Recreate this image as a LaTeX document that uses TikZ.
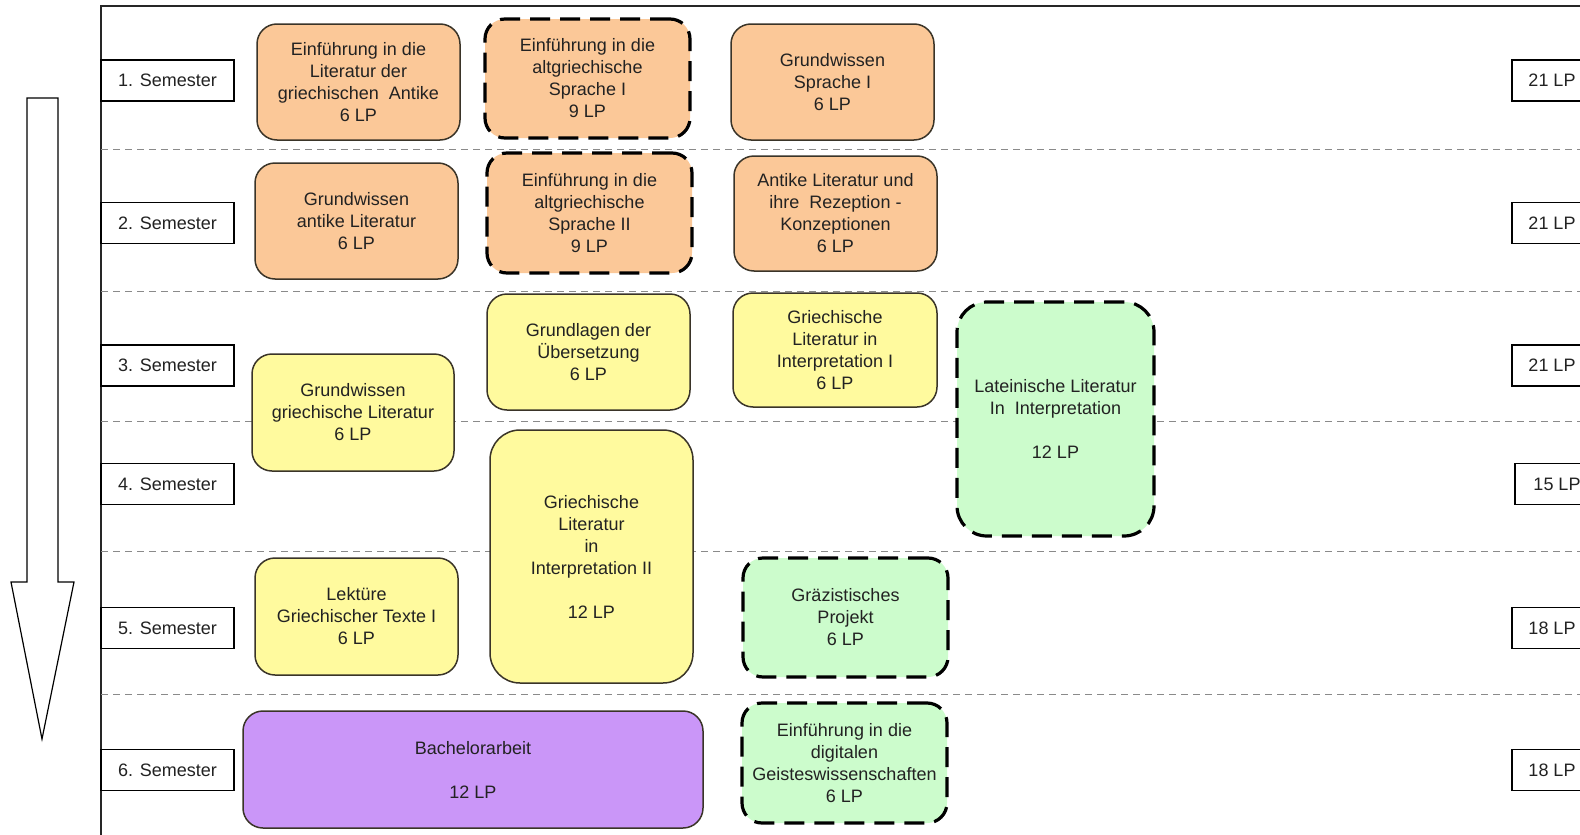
\documentclass[tikz,border=0pt]{standalone}
\usepackage{fontspec}
\setmainfont{Liberation Sans}
\definecolor{modorange}{HTML}{FBC898}
\definecolor{modyellow}{HTML}{FFFA9E}
\definecolor{modgreen}{HTML}{CCFCCC}
\definecolor{modpurple}{HTML}{CA96F8}
\definecolor{bord}{HTML}{3A3428}
\definecolor{txt}{HTML}{222222}
\definecolor{sepgray}{HTML}{8A8A8A}
\newcommand\modfont{\fontsize{18}{22}\selectfont}
\tikzset{
  mod/.style={rectangle, rounded corners=20pt, align=center, inner sep=0pt, font=\modfont, text=txt},
  solidmod/.style={mod, draw=bord, line width=1.5pt},
  dashmod/.style={mod, draw=black, line width=3.2pt, dash pattern=on 20pt off 10pt},
  orangebox/.style={fill=modorange},
  yellowbox/.style={fill=modyellow},
  greenbox/.style={fill=modgreen},
  purplebox/.style={fill=modpurple},
  sem/.style={rectangle, draw=black, line width=1.3pt, minimum width=133pt, minimum height=41pt, inner sep=0pt, font=\modfont, text=txt, fill=white},
  lpbox/.style={rectangle, draw=black, line width=1.3pt, minimum width=80pt, minimum height=41pt, inner sep=0pt, font=\modfont, text=txt, fill=white},
  frameline/.style={draw=black!85, line width=1.5pt},
  sepline/.style={draw=sepgray, line width=1pt, dash pattern=on 7pt off 5pt},
  arrowshape/.style={draw=black, fill=white, line width=1.2pt, line join=miter}
}
\begin{document}
\begin{tikzpicture}[x=1pt,y=-1pt]
\clip (0,0) rectangle (1580,835);
\fill[white] (0,0) rectangle (1580,835);
% frame
\draw[frameline] (1600,6) -- (101,6) -- (101,850);
% semester separators
\foreach \yy in {149,291,421,551,694}{
  \draw[sepline] (101,\yy) -- (1580,\yy);
}
% progress arrow
\draw[arrowshape] (27,98) -- (58,98) -- (58,582) -- (74,582) -- (42,739) -- (11,582) -- (27,582) -- cycle;
% semester labels
\node[sem] (s1) at (167.5,80.5) {1. Semester};
\node[sem] (s2) at (167.5,223) {2. Semester};
\node[sem] (s3) at (167.5,365.5) {3. Semester};
\node[sem] (s4) at (167.5,484) {4. Semester};
\node[sem] (s5) at (167.5,628) {5. Semester};
\node[sem] (s6) at (167.5,770) {6. Semester};
% LP totals
\node[lpbox] (lp1) at (1552,80.5) {21 LP};
\node[lpbox] (lp2) at (1552,223) {21 LP};
\node[lpbox] (lp3) at (1552,365.5) {21 LP};
\node[lpbox, minimum width=84pt] (lp4) at (1557,484) {15 LP};
\node[lpbox] (lp5) at (1552,628) {18 LP};
\node[lpbox] (lp6) at (1552,770) {18 LP};
% semester 1
\node[solidmod, orangebox, minimum width=203pt, minimum height=116pt] (a1) at (358.5,82)
  {Einführung in die\\Literatur der\\griechischen~ Antike\\6 LP};
\node[dashmod, orangebox, minimum width=205pt, minimum height=119pt] (a2) at (587.5,78.5)
  {Einführung in die\\altgriechische\\Sprache I\\9 LP};
\node[solidmod, orangebox, minimum width=203pt, minimum height=116pt] (a3) at (832.5,82)
  {Grundwissen\\Sprache I\\6 LP};
% semester 2
\node[solidmod, orangebox, minimum width=203pt, minimum height=116pt] (b1) at (356.5,221)
  {Grundwissen\\antike Literatur\\6 LP};
\node[dashmod, orangebox, minimum width=205pt, minimum height=120pt] (b2) at (589.5,213)
  {Einführung in die\\altgriechische\\Sprache II\\9 LP};
\node[solidmod, orangebox, minimum width=203pt, minimum height=115pt] (b3) at (835.5,213.5)
  {Antike Literatur und\\ihre~ Rezeption -\\Konzeptionen\\6 LP};
% semester 3/4
\node[solidmod, yellowbox, minimum width=203pt, minimum height=116pt] (c1) at (588.5,352)
  {Grundlagen der\\Übersetzung\\6 LP};
\node[solidmod, yellowbox, minimum width=204pt, minimum height=114pt] (c2) at (835,350)
  {Griechische\\Literatur in\\Interpretation I\\6 LP};
\node[dashmod, greenbox, rounded corners=30pt, minimum width=197pt, minimum height=234pt] (c3) at (1055.5,419)
  {Lateinische Literatur\\In~ Interpretation\\[22pt]12 LP};
\node[solidmod, yellowbox, minimum width=202pt, minimum height=117pt] (d1) at (353,412.5)
  {Grundwissen\\griechische Literatur\\6 LP};
\node[solidmod, yellowbox, rounded corners=30pt, minimum width=203pt, minimum height=253pt] (e1) at (591.5,556.5)
  {Griechische\\Literatur\\in\\Interpretation II\\[22pt]12 LP};
% semester 5
\node[solidmod, yellowbox, minimum width=203pt, minimum height=117pt] (f1) at (356.5,616.5)
  {Lektüre\\Griechischer Texte I\\6 LP};
\node[dashmod, greenbox, minimum width=205pt, minimum height=119pt] (f2) at (845.5,617.5)
  {Gräzistisches\\Projekt\\6 LP};
% semester 6
\node[solidmod, purplebox, minimum width=460pt, minimum height=117pt] (g1) at (473,769.5)
  {Bachelorarbeit\\[22pt]12 LP};
\node[dashmod, greenbox, minimum width=205pt, minimum height=120pt] (g2) at (844.5,763)
  {Einführung in die\\digitalen\\Geisteswissenschaften\\6 LP};
\end{tikzpicture}
\end{document}
